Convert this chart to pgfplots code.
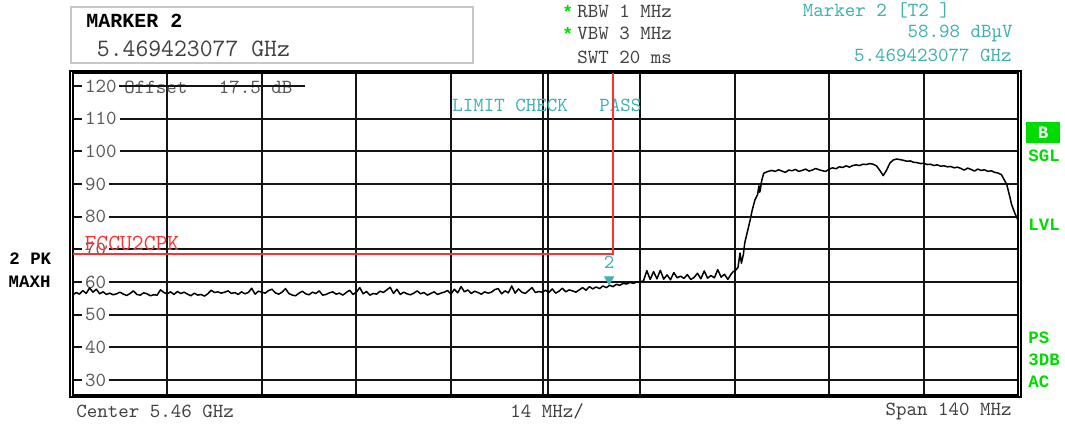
\documentclass[border=0pt]{standalone}
\usepackage{fontspec}
\usepackage{pgfplots}
\pgfplotsset{compat=1.18}
\newfontfamily\bmono{Liberation Mono}
\definecolor{teal2}{RGB}{64,176,176}
\definecolor{green2}{RGB}{0,220,0}
\definecolor{red2}{RGB}{255,48,48}
\definecolor{txtgray}{RGB}{64,64,64}
\definecolor{lblgray}{RGB}{90,90,90}
\begin{document}
\begin{tikzpicture}
\begin{axis}[
 set layers,
 at={(36.35pt,-197.5pt)}, anchor=south west,
 scale only axis, width=472.8pt, height=161.1pt,
 xmin=5390, xmax=5530, ymin=25.4, ymax=124.1,
 xtick={5404,5418,5432,5446,5459.65,5460.35,5474,5488,5502,5516},
 xticklabels={},
 ytick={30,40,...,110},
 extra y ticks={120},
 extra y tick style={grid=none, major tick length=0pt},
 ymajorgrids, xmajorgrids,
 major grid style={black!92, line width=1pt},
 major tick length=0pt,
 axis line style={black, line width=1pt},
 yticklabel style={anchor=west, xshift=4.5pt, fill=white, inner sep=1.5pt, text=lblgray, font=\fontsize{10}{12}\selectfont\ttfamily},
 /pgf/number format/assume math mode=true,
]
\addplot[black, line width=0.75pt, line join=round] coordinates {
(5390,56.0)(5390.5,56.8)(5391,56.3)(5391.5,57.4)(5392,56.5)(5392.5,58.2)(5393,56.9)(5393.5,57.8)(5394,56.4)(5394.5,57.0)
(5395,56.2)(5395.5,56.6)(5396,56.1)(5396.5,56.4)(5397,56.9)(5397.5,56.3)(5398,55.9)(5398.5,56.5)(5399,57.3)(5399.5,56.2)
(5400,56.0)(5400.5,56.7)(5401,56.4)(5401.5,55.8)(5402,56.1)(5402.5,56.0)(5403,57.6)(5403.5,56.8)(5404,56.4)(5404.5,57.0)
(5405,56.2)(5405.5,57.1)(5406,56.5)(5406.5,56.9)(5407,56.3)(5407.5,55.8)(5408,56.6)(5408.5,56.0)(5409,56.2)(5409.5,55.7)
(5410,56.4)(5410.5,57.5)(5411,56.8)(5411.5,57.0)(5412,56.6)(5412.5,56.9)(5413,57.3)(5413.5,56.5)(5414,56.8)(5414.5,56.2)
(5415,57.0)(5415.5,56.4)(5416,56.8)(5416.5,58.1)(5417,56.3)(5417.5,57.2)(5418,56.9)(5418.5,56.6)(5419,57.4)(5419.5,57.8)
(5420,56.7)(5420.5,56.3)(5421,56.9)(5421.5,58.0)(5422,56.5)(5422.5,56.0)(5423,55.8)(5423.5,56.6)(5424,57.2)(5424.5,56.4)
(5425,56.1)(5425.5,56.9)(5426,56.5)(5426.5,57.3)(5427,56.0)(5427.5,56.2)(5428,56.7)(5428.5,57.0)(5429,56.3)(5429.5,56.6)
(5430,56.0)(5430.5,56.8)(5431,57.5)(5431.5,56.2)(5432,56.9)(5432.5,58.3)(5433,56.4)(5433.5,57.1)(5434,56.0)(5434.5,56.5)
(5435,56.3)(5435.5,57.2)(5436,56.8)(5436.5,57.6)(5437,58.4)(5437.5,56.5)(5438,57.8)(5438.5,56.2)(5439,56.9)(5439.5,56.4)
(5440,56.1)(5440.5,56.6)(5441,57.3)(5441.5,56.4)(5442,56.8)(5442.5,56.0)(5443,56.5)(5443.5,57.0)(5444,56.2)(5444.5,56.6)
(5445,56.9)(5445.5,57.4)(5446,56.3)(5446.5,57.8)(5447,56.7)(5447.5,58.6)(5448,57.0)(5448.5,57.6)(5449,56.5)(5449.5,57.2)
(5450,56.8)(5450.5,56.3)(5451,57.0)(5451.5,56.6)(5452,56.9)(5452.5,57.7)(5453,58.0)(5453.5,56.4)(5454,57.3)(5454.5,56.7)
(5455,58.8)(5455.5,56.6)(5456,57.9)(5456.5,56.9)(5457,56.5)(5457.5,57.4)(5458,58.3)(5458.5,56.8)(5459,57.1)(5459.5,56.9)
(5460,57.5)(5460.5,56.8)(5461,57.9)(5461.5,56.6)(5462,57.2)(5462.5,58.1)(5463,57.0)(5463.5,57.6)(5464,57.3)(5464.5,56.9)
(5465,57.6)(5465.5,58.3)(5466,57.5)(5466.5,58.6)(5467,57.9)(5467.5,58.5)(5468,58.0)(5468.5,58.8)(5469,58.3)(5469.5,59.0)
(5470,58.6)(5470.5,59.3)(5471,59.0)(5471.5,59.6)(5472,59.4)(5472.5,59.9)(5473,59.6)(5473.5,60.0)(5474,60.1)(5474.5,60.3)
(5475,63.5)(5475.5,60.8)(5476,63.2)(5476.5,61.0)(5477,63.6)(5477.5,60.9)(5478,62.2)(5478.5,60.7)(5479,62.9)(5479.5,61.3)
(5480,61.8)(5480.5,61.1)(5481,62.3)(5481.5,60.8)(5482,61.4)(5482.5,62.7)(5483,61.0)(5483.5,63.4)(5484,61.2)(5484.5,62.0)
(5485,61.3)(5485.5,63.8)(5486,61.5)(5486.5,62.4)(5487,60.8)(5487.5,62.5)(5487.8,63.2)(5488.1,63.5)(5488.5,64.5)(5488.8,68.9)
(5489,65.8)(5489.3,68.5)(5489.5,72.0)(5489.9,75.5)(5490.3,79.0)(5490.6,82.0)(5491,85.1)(5491.4,86.8)(5491.6,89.5)(5491.7,87.5)
(5491.8,88.2)(5492,91.0)(5492.3,93.3)(5492.8,93.8)
(5493.5,94.2)(5494,93.9)(5494.5,94.4)(5495,94.0)(5495.5,93.6)(5496,94.3)(5496.5,94.1)(5497,94.5)(5497.5,93.9)(5498,94.2)
(5498.5,94.6)(5499,94.0)(5499.5,94.3)(5500,94.8)(5500.5,94.4)(5501,94.1)(5501.5,93.9)(5502,94.6)(5502.5,95.0)(5503,94.7)
(5503.5,95.3)(5504,95.1)(5504.5,95.6)(5505,95.2)(5505.5,95.7)(5506,95.9)(5506.5,95.7)(5507,96.1)(5507.5,96.0)(5508,96.3)
(5508.5,96.1)(5509,95.6)(5509.5,94.2)(5510,92.6)(5510.5,94.3)(5511,96.5)(5511.5,97.4)(5512,97.7)(5512.5,97.5)(5513,97.3)
(5513.5,97.0)(5514,97.1)(5514.5,96.7)(5515,96.6)(5515.5,96.3)(5516,96.4)(5516.5,96.0)(5517,96.1)(5517.5,95.7)(5518,95.9)
(5518.5,95.5)(5519,95.6)(5519.5,95.3)(5520,95.4)(5520.5,95.0)(5521,95.2)(5521.5,94.8)(5522,94.3)(5522.5,94.9)(5523,94.5)
(5523.5,94.0)(5524,94.6)(5524.5,94.2)(5525,94.4)(5525.5,93.9)(5526,94.1)(5526.5,93.6)(5527,93.4)(5527.5,92.9)(5528,91.0)
(5528.3,89.8)(5528.7,86.5)(5529,83.8)(5529.5,81.0)(5530,78.8)
};
\addplot[red2, line width=0.75pt, on layer=axis foreground] coordinates {(5390,68.6)(5470,68.6)(5470,124.1)};
\addplot[only marks, mark=triangle*, mark size=2.6pt, color=teal2, mark options={yshift=3pt, rotate=180}] coordinates {(5469.423,58.98)};
\node[text=teal2, font=\fontsize{10}{12}\selectfont\ttfamily, inner sep=0] at (axis cs:5469.423,58.98) [yshift=11.4pt] {2};
\node[text=red2, anchor=west, font=\fontsize{11.5}{13}\selectfont\ttfamily, inner sep=0] at (axis cs:5391.7,68.6) [yshift=5.5pt] {FCCU2CPK};
\end{axis}
\begin{scope}[x=0.5pt,y=-0.5pt]
 \draw[black, line width=1pt] (70.4,70.6) rectangle (1020.6,397.2);
 \node[anchor=west, inner sep=0, text=lblgray, font=\fontsize{10}{12}\selectfont\ttfamily] at (124,87) {Offset\ \ \ 17.5 dB};
 \draw[black!92, line width=1pt] (73,86.2) -- (82,86.2);
 \draw[black!92, line width=1pt] (119,86.2) -- (305,86.2);
 % marker box
 \draw[black!22, line width=1pt, fill=white] (70.7,7.3) rectangle (472.7,62.7);
 \node[anchor=west, inner sep=0, font=\fontsize{10}{12}\selectfont\bmono\bfseries] at (86,21) {MARKER 2};
 \node[anchor=west, inner sep=0, text=black!75, font=\fontsize{12.5}{14}\selectfont\ttfamily] at (96.5,49.3) {5.469423077 GHz};
 % top middle
 \node[anchor=west, inner sep=0, text=green2, font=\fontsize{9}{10}\selectfont\bmono\bfseries] at (562,12) {*};
 \node[anchor=west, inner sep=0, text=green2, font=\fontsize{9}{10}\selectfont\bmono\bfseries] at (562,34) {*};
 \node[anchor=west, inner sep=0, text=txtgray, font=\fontsize{10}{12}\selectfont\ttfamily] at (577,11) {RBW 1 MHz};
 \node[anchor=west, inner sep=0, text=txtgray, font=\fontsize{10}{12}\selectfont\ttfamily] at (577,33.4) {VBW 3 MHz};
 \node[anchor=west, inner sep=0, text=txtgray, font=\fontsize{10}{12}\selectfont\ttfamily] at (577,57.5) {SWT 20 ms};
 % top right
 \node[anchor=west, inner sep=0, text=teal2, font=\fontsize{10}{12}\selectfont\ttfamily] at (802.5,10.5) {Marker 2 [T2 ]};
 \node[anchor=east, inner sep=0, text=teal2, font=\fontsize{10}{12}\selectfont\ttfamily] at (1013,33) {58.98 dBµV};
 \node[anchor=east, inner sep=0, text=teal2, font=\fontsize{10}{12}\selectfont\ttfamily] at (1012,55) {5.469423077 GHz};
 % limit check
 \node[anchor=west, inner sep=0, text=teal2, font=\fontsize{10}{12}\selectfont\ttfamily] at (452,105) {LIMIT CHECK\ \ \ PASS};
 % left labels
 \node[anchor=west, inner sep=0, font=\fontsize{8.7}{10}\selectfont\bmono\bfseries] at (9,259) {2 PK};
 \node[anchor=west, inner sep=0, font=\fontsize{8.7}{10}\selectfont\bmono\bfseries] at (8.3,281.7) {MAXH};
 % right labels
 \fill[green2] (1026,122) rectangle (1060,143);
 \node[inner sep=0, text=white, font=\fontsize{8.7}{10}\selectfont\bmono\bfseries] at (1043,132.5) {B};
 \node[anchor=west, inner sep=0, text=green2, font=\fontsize{8.7}{10}\selectfont\bmono\bfseries] at (1028,155.7) {SGL};
 \node[anchor=west, inner sep=0, text=green2, font=\fontsize{8.7}{10}\selectfont\bmono\bfseries] at (1028,225) {LVL};
 \node[anchor=west, inner sep=0, text=green2, font=\fontsize{8.7}{10}\selectfont\bmono\bfseries] at (1028,337.7) {PS};
 \node[anchor=west, inner sep=0, text=green2, font=\fontsize{8.7}{10}\selectfont\bmono\bfseries] at (1028,359.3) {3DB};
 \node[anchor=west, inner sep=0, text=green2, font=\fontsize{8.7}{10}\selectfont\bmono\bfseries] at (1028,381.7) {AC};
 % bottom
 \node[anchor=west, inner sep=0, text=txtgray, font=\fontsize{10}{12}\selectfont\ttfamily] at (76,411) {Center 5.46 GHz};
 \node[anchor=west, inner sep=0, text=txtgray, font=\fontsize{10}{12}\selectfont\ttfamily] at (510,411) {14 MHz/};
 \node[anchor=east, inner sep=0, text=txtgray, font=\fontsize{10}{12}\selectfont\ttfamily] at (1012,411) {Span 140 MHz};
\end{scope}
\pgfresetboundingbox
\path[use as bounding box] (0,0) rectangle (532.5pt,-212pt);
\end{tikzpicture}
\end{document}
